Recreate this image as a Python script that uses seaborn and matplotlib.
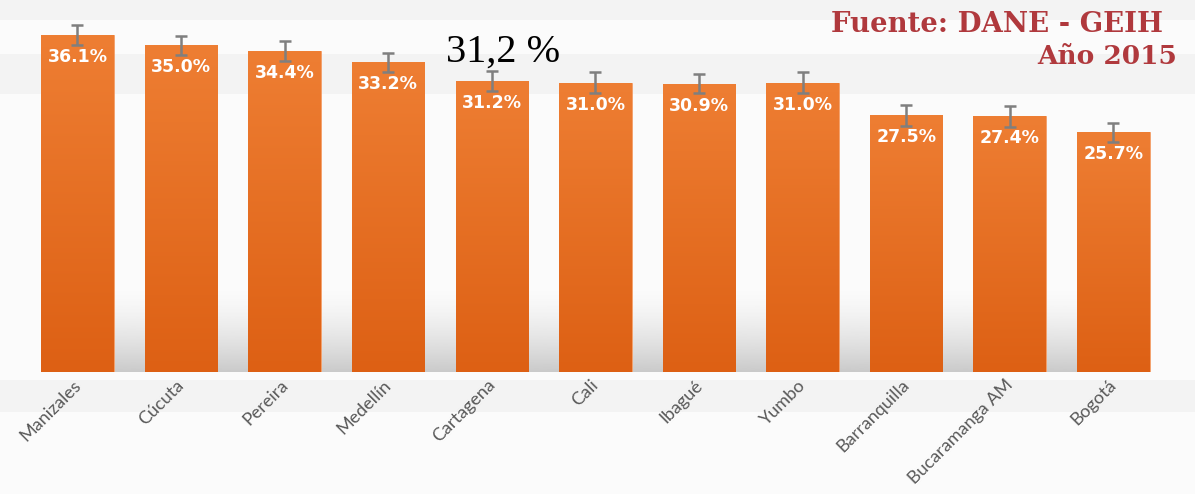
import numpy as np
import matplotlib
matplotlib.use("Agg")
import matplotlib.pyplot as plt
import matplotlib.patches as mpatches
import matplotlib.transforms as mtrans
from matplotlib.colors import LinearSegmentedColormap
import seaborn as sns
import pandas as pd

# ---- data ----
ciudades = ["Manizales", "Cúcuta", "Pereira", "Medellín", "Cartagena", "Cali",
            "Ibagué", "Yumbo", "Barranquilla", "Bucaramanga AM", "Bogotá"]
tasas = [36.1, 35.0, 34.4, 33.2, 31.2, 31.0, 30.9, 31.0, 27.5, 27.4, 25.7]
errores = [1.1, 1.0, 1.1, 1.0, 1.1, 1.1, 1.0, 1.1, 1.1, 1.1, 1.0]
etiquetas = ["36.1%", "35.0%", "34.4%", "33.2%", "31.2%", "31.0%",
             "30.9%", "31.0%", "27.5%", "27.4%", "25.7%"]
promedio_txt = "31,2 %"
fuente_txt = "Fuente: DANE - GEIH"
anio_txt = "Año 2015"

df = pd.DataFrame({"ciudad": ciudades, "tasa": tasas})

sns.set_theme(style="white")
plt.rcParams["font.family"] = ["DejaVu Sans"]

fig = plt.figure(figsize=(11.95, 4.94), dpi=100)
fig.patch.set_facecolor("#fbfbfb")

# subtle background bands (texture-like)
for (y0, h) in [(0.96, 0.04), (0.81, 0.08), (0.165, 0.065)]:
    fig.patches.append(mpatches.Rectangle((0, y0), 1, h, transform=fig.transFigure,
                                          facecolor="#f3f3f3", edgecolor="none", zorder=-5))

ax = fig.add_axes([0.0215, 0.247, 0.9535, 0.746])
ax.set_facecolor("none")

sns.barplot(data=df, x="ciudad", y="tasa", color="#E8732A", width=0.7,
            saturation=1, ax=ax, zorder=3)

# gradient fill in bars
cmap = LinearSegmentedColormap.from_list("og", ["#DD6014", "#EE7E33"])
grad = np.linspace(0, 1, 256).reshape(-1, 1)
for p in ax.patches:
    x0, y0 = p.get_x(), p.get_y()
    w, h = p.get_width(), p.get_height()
    im = ax.imshow(grad, cmap=cmap, origin="lower", aspect="auto",
                   extent=[x0, x0 + w, y0, y0 + h], zorder=3.5)
    im.set_clip_path(p)
    p.set_edgecolor("#F4A06A")
    p.set_linewidth(0.6)

# shadow band behind bars
shade = np.zeros((256, 1, 4))
tt = np.linspace(0, 1, 256)
shade[:, 0, :3] = 0.6
shade[:, 0, 3] = np.clip(0.5 * (1 - tt) ** 1.5, 0, 1)
ax.imshow(shade, origin="lower", aspect="auto", extent=[-0.35, 10.35, 0, 9],
          zorder=1)

ax.errorbar(x=ciudades, y=tasas, yerr=errores, fmt="none", ecolor="#7f7f7f",
            elinewidth=1.8, capsize=4.3, capthick=1.8, zorder=5)

for c, v, t in zip(ciudades, tasas, etiquetas):
    ax.annotate(t, xy=(c, v), xytext=(0, -22), textcoords="offset pixels",
                ha="center", va="center", color="white", fontsize=12.5,
                fontweight="bold", family="DejaVu Sans", zorder=6)

ax.set_xlim(-0.5, 10.5)
ax.set_ylim(0, 39.5)
ax.set_xlabel("")
ax.set_ylabel("")
ax.set_yticks([])
ax.tick_params(axis="x", length=0, pad=5)
ax.set_xticks(range(len(ciudades)))
ax.set_xticklabels(ciudades, rotation=45, ha="right", rotation_mode="anchor",
                   fontsize=13, color="#595959", family="Lato")
shift = mtrans.ScaledTranslation(-5 / 100, 2 / 100, fig.dpi_scale_trans)
for lbl in ax.get_xticklabels():
    lbl.set_transform(lbl.get_transform() + shift)
for s in ax.spines.values():
    s.set_visible(False)

# big average annotation
ax.annotate(promedio_txt, xy=("Cartagena", tasas[4]), xytext=(11, 29),
            textcoords="offset pixels", ha="center", va="center",
            fontsize=29, family="Liberation Serif", color="black", zorder=7)

fig.text(0.973, 0.951, fuente_txt, ha="right", va="center", fontsize=19.8,
         family="DejaVu Serif", fontweight="bold", color="#B0393D")
fig.text(0.985, 0.886, anio_txt, ha="right", va="center", fontsize=19,
         family="DejaVu Serif", fontweight="bold", color="#B0393D")

fig.savefig("out.png", dpi=100, facecolor=fig.get_facecolor())
